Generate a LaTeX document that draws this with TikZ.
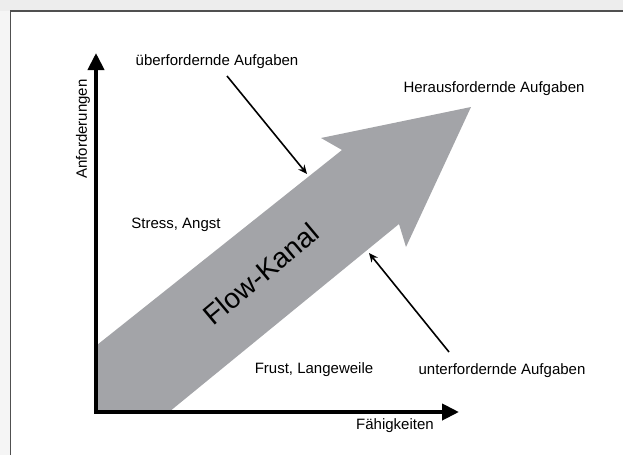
\documentclass[tikz,border=0pt]{standalone}
\usepackage{fontspec}
\setmainfont{Liberation Sans}
\usetikzlibrary{arrows.meta}

\definecolor{kanal}{RGB}{163,164,168}
\definecolor{rahmen}{RGB}{80,80,80}

\begin{document}
\begin{tikzpicture}[x=1pt, y=-1pt,
  every node/.style={inner sep=0pt, outer sep=0pt, font=\fontsize{15}{18}\selectfont},
  achse/.style={line width=4pt, -{Triangle[length=17pt,width=16pt]}},
  hinweis/.style={line width=1.6pt, -{Stealth[length=9pt,width=8pt]}}]
\useasboundingbox (0,0) rectangle (623,455);

% page frame
\fill[black!7] (0,0) rectangle (623,11);
\fill[black!4] (0,11) rectangle (10,455);
\draw[rahmen, line width=1.6pt] (10.5,455) -- (10.5,11) -- (623,11);

% flow channel
\fill[kanal] (97,345) -- (342,150) -- (321,138) -- (471,107)
  -- (406,247) -- (399,224) -- (169,412) -- (97,412) -- cycle;
\node[rotate=40, font=\fontsize{28}{32}\selectfont] (flow) at (261,274) {Flow-Kanal};

% axes
\coordinate (ursprung) at (96,412);
\coordinate (yende) at (96,53);
\coordinate (xende) at (459,412);
\draw[achse] (ursprung) -- (yende);
\draw[achse] ([xshift=-2pt]ursprung) -- (xende);
\node[rotate=90] (anford) at (83,129) {Anforderungen};
\node (faehig) at (395,426) {Fähigkeiten};

% labels
\node (ueber) at (217,62) {überfordernde Aufgaben};
\node (heraus) at (494,89) {Herausfordernde Aufgaben};
\node (stress) at (176,225) {Stress, Angst};
\node (frust) at (314,370) {Frust, Langeweile};
\node (unter) at (502,371) {unterfordernde Aufgaben};

% pointers
\coordinate (ueberStart) at (227,76);
\coordinate (ueberZiel) at (307,174);
\coordinate (unterStart) at (449,352);
\coordinate (unterZiel) at (369,253);
\draw[hinweis] (ueberStart) -- (ueberZiel);
\draw[hinweis] (unterStart) -- (unterZiel);
\end{tikzpicture}
\end{document}
